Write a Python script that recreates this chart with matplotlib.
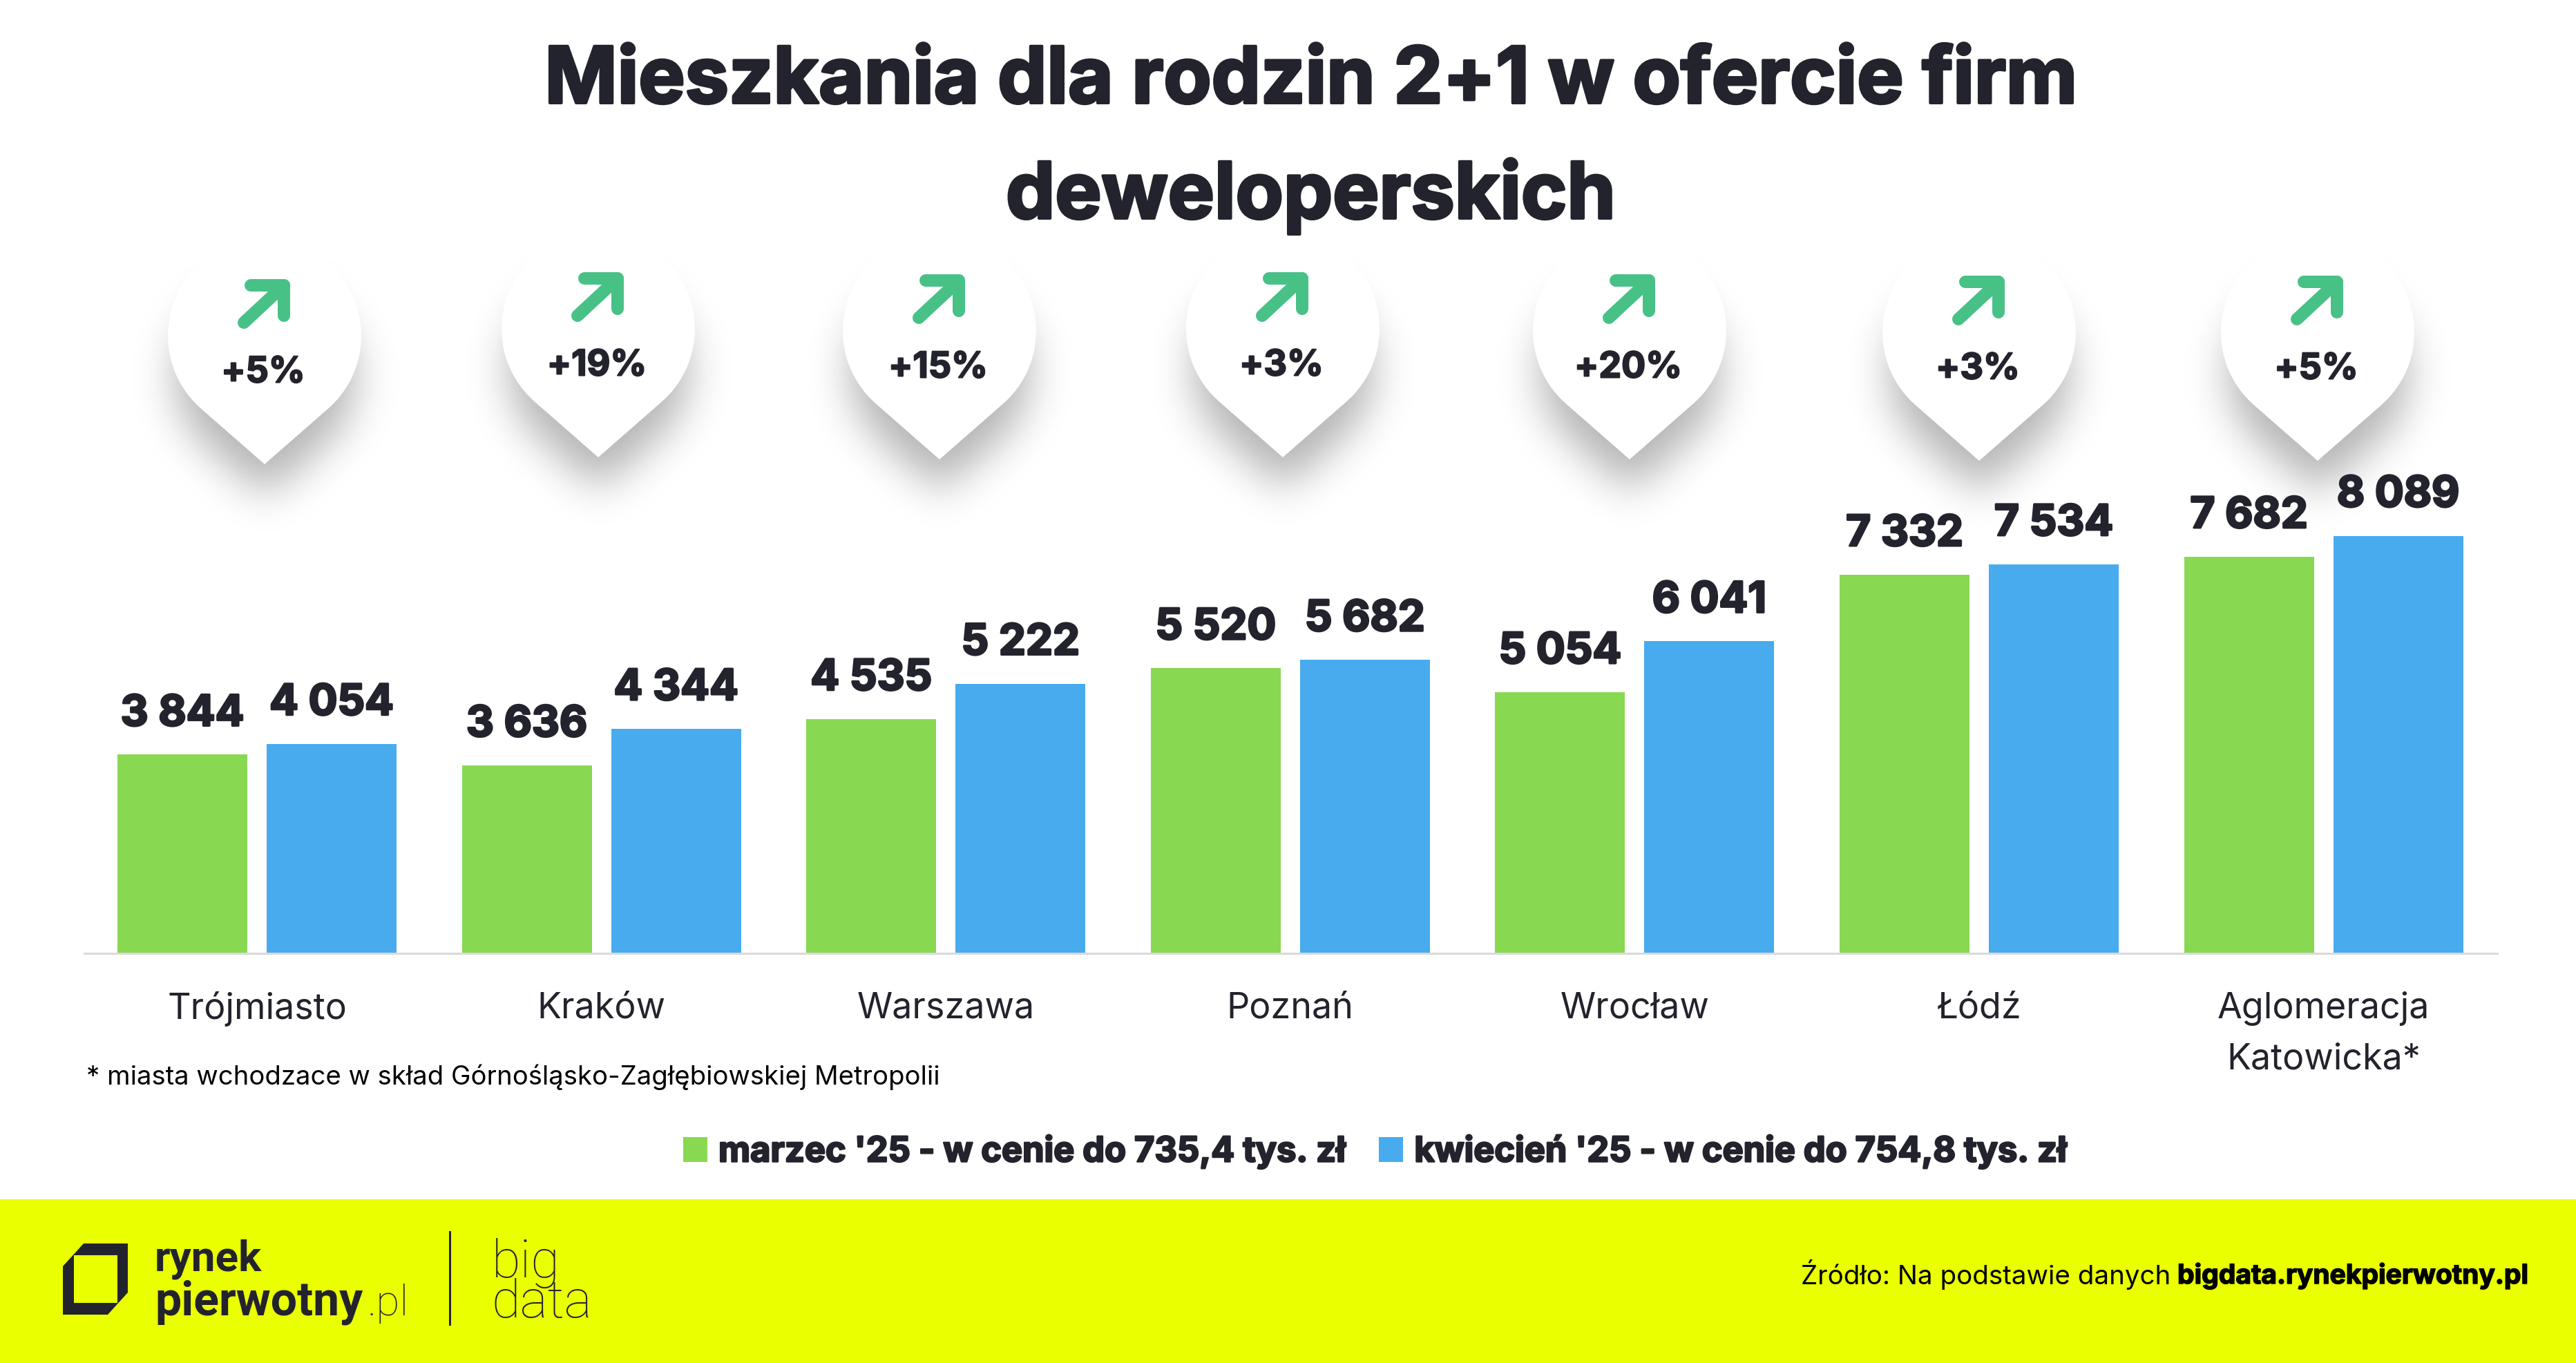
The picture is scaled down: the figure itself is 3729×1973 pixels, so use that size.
import numpy as np
import matplotlib
matplotlib.use('Agg')
import matplotlib.pyplot as plt
import matplotlib.patheffects as pe
from matplotlib.path import Path
from matplotlib.patches import Polygon, Rectangle

# data
categories = ['Trójmiasto', 'Kraków', 'Warszawa', 'Poznań', 'Wrocław', 'Łódź', 'Aglomeracja\nKatowicka*']
march = [3844, 3636, 4535, 5520, 5054, 7332, 7682]
april = [4054, 4344, 5222, 5682, 6041, 7534, 8089]
changes = ['+5%', '+19%', '+15%', '+3%', '+20%', '+3%', '+5%']

march_label = "marzec '25 - w cenie do 735,4 tys. zł"
april_label = "kwiecień '25 - w cenie do 754,8 tys. zł"

# pin layout in pixels
pin_x = [383, 866, 1360, 1857, 2359, 2865, 3355]
pin_tip = [673, 663, 666, 663, 666, 668, 668]

W, H = 3729, 1974
DPI = 200
DARK = '#23232D'
GREEN = '#88D851'
BLUE = '#47ABEE'
YELLOW = '#EAFF00'
ARROW = '#48C187'
FONT = 'Inter'
LOGO = 'Roboto'


def pts(px):
    return px * 72 / DPI


def heavy(px, color=DARK):
    # the original face is heavier than Inter bold
    return [pe.withStroke(linewidth=pts(px), foreground=color)]


fig = plt.figure(figsize=(W / DPI, H / DPI), dpi=DPI, facecolor='white')

# background layer in pixel coords (banner, pins, footers)
bg = fig.add_axes([0, 0, 1, 1], zorder=0)
bg.axis('off')


def draw_pin(cx, tip, txt):
    r = 140
    cy = tip - 186
    theta = np.arccos(r / 186)
    ang = np.linspace(theta, 2 * np.pi - theta, 80)
    xs = np.r_[cx, cx + r * np.sin(ang)]
    ys = np.r_[tip, cy + r * np.cos(ang)]
    verts = np.c_[xs, ys]

    # soft shadow: narrower copy of the pin, moved down and blurred
    gx, gy = np.meshgrid(np.arange(cx - 280, cx + 280, 2), np.arange(cy - 200, tip + 180, 2))
    shadow = (verts - [cx, tip]) * 0.93 + [cx, tip + 45]
    mask = Path(shadow).contains_points(np.c_[gx.ravel(), gy.ravel()]).reshape(gx.shape).astype(float)
    k = np.exp(-np.arange(-45, 46) ** 2 / (2 * 15.0 ** 2))
    k = k / k.sum()
    blur = np.apply_along_axis(lambda v: np.convolve(v, k, mode='same'), 0, mask)
    blur = np.apply_along_axis(lambda v: np.convolve(v, k, mode='same'), 1, blur)
    rgba = np.zeros(blur.shape + (4,))
    rgba[..., 3] = blur * 0.3
    bg.imshow(rgba, extent=(cx - 280, cx + 280, tip + 180, cy - 200), aspect='auto', zorder=1)

    bg.add_patch(Polygon(verts, closed=True, fc='white', ec='none', zorder=2))

    # arrow
    c_x, c_y = cx + 28, tip - 259
    lw = pts(18)
    bg.plot([c_x - 48, c_x, c_x], [c_y, c_y, c_y + 44], color=ARROW, lw=lw,
            solid_capstyle='round', solid_joinstyle='round', zorder=3)
    bg.plot([c_x - 58, c_x], [c_y + 54, c_y], color=ARROW, lw=lw,
            solid_capstyle='round', zorder=3)
    bg.text(cx - 2, tip - 132, txt, ha='center', va='center', fontsize=pts(52),
            fontweight='bold', family=FONT, color=DARK, zorder=3, path_effects=heavy(2))


for px, tip, txt in zip(pin_x, pin_tip, changes):
    draw_pin(px, tip, txt)

# title
bg.text(1897, 150, 'Mieszkania dla rodzin 2+1 w ofercie firm', ha='center', va='baseline',
        fontsize=pts(113), fontweight='bold', family=FONT, color=DARK, path_effects=heavy(4))
bg.text(1897, 317, 'deweloperskich', ha='center', va='baseline',
        fontsize=pts(113), fontweight='bold', family=FONT, color=DARK, path_effects=heavy(4))

# footnote
bg.text(125, 1570, '* miasta wchodzace w skład Górnośląsko-Zagłębiowskiej Metropolii', ha='left',
        va='baseline', fontsize=pts(38.3), family=FONT, color='black')

# bottom banner
bg.add_patch(Rectangle((0, 1737), W, H - 1737, fc=YELLOW, ec='none', zorder=1))

# logo
bg.add_patch(Polygon([(121, 1801), (185, 1801), (185, 1872), (156, 1904), (91, 1904), (91, 1834)],
                     closed=True, fc=DARK, ec='none', zorder=2))
bg.add_patch(Rectangle((107, 1818), 63, 69, fc=YELLOW, ec='none', zorder=3))
bg.text(224, 1840, 'rynek', ha='left', va='baseline', fontsize=pts(62), fontweight='bold',
        family=LOGO, color=DARK, zorder=3)
bg.text(224, 1904, 'pierwotny', ha='left', va='baseline', fontsize=pts(68), fontweight='bold',
        family=LOGO, color=DARK, zorder=3)
bg.text(532, 1904, '.pl', ha='left', va='baseline', fontsize=pts(62), fontweight='light',
        family=LOGO, color=DARK, zorder=3)
bg.plot([651, 651], [1784, 1918], color=DARK, lw=pts(3), zorder=3)
bg.text(712, 1922, 'big\ndata', ha='left', va='bottom', fontsize=pts(76), fontweight='light',
        family=LOGO, color=DARK, zorder=3, linespacing=0.72)

# source
bg.text(3142, 1859, 'Źródło: Na podstawie danych', ha='right', va='baseline', fontsize=pts(38.5),
        family=FONT, color='black', zorder=3)
bg.text(3152, 1859, 'bigdata.rynekpierwotny.pl', ha='left', va='baseline', fontsize=pts(39),
        fontweight='bold', family=FONT, color='black', zorder=3, path_effects=heavy(1.5, 'black'))

bg.set_xlim(0, W)
bg.set_ylim(H, 0)

# chart axes on top, transparent
left, right = 122, 3615
bottom_px = 1380.5
top_px = bottom_px - 9000 * 604 / 8089
ax = fig.add_axes([left / W, 1 - bottom_px / H, (right - left) / W, (bottom_px - top_px) / H], zorder=1)
ax.patch.set_alpha(0)

x = np.arange(len(categories))
bar_w = 188 / 498.6
off = 108 / 498.6
bars1 = ax.bar(x - off, march, bar_w, color=GREEN, label=march_label)
bars2 = ax.bar(x + off, april, bar_w, color=BLUE, label=april_label)

for bars in (bars1, bars2):
    for b in bars:
        v = int(b.get_height())
        ax.annotate(f'{v:,}'.replace(',', ' '), (b.get_x() + b.get_width() / 2, v),
                    xytext=(0, pts(42)), textcoords='offset points', ha='center', va='baseline',
                    fontsize=pts(62), fontweight='bold', family=FONT, color=DARK, path_effects=heavy(3))

ax.set_xlim((left - 372) / 498.6, (right - 372) / 498.6)
ax.set_ylim(0, 9000)
ax.set_yticks([])
ax.set_xticks(x)
ax.set_xticklabels(categories, family=FONT, fontsize=pts(52), color=DARK, linespacing=1.62)
ax.tick_params(axis='x', length=0, pad=pts(55))
for s in ('top', 'left', 'right'):
    ax.spines[s].set_visible(False)
ax.spines['bottom'].set_color('#D9D9D9')
ax.spines['bottom'].set_linewidth(pts(3))

leg = ax.legend(loc='center', bbox_to_anchor=(1990 / W, 1 - 1668 / H), bbox_transform=fig.transFigure,
                ncol=2, frameon=False, handlelength=0.7, handleheight=0.7, handletextpad=0.32,
                columnspacing=0.95, labelcolor=DARK,
                prop={'family': FONT, 'weight': 'bold', 'size': pts(50.5)})
for t in leg.get_texts():
    t.set_path_effects(heavy(2.5))

fig.savefig('out.png', dpi=DPI)
